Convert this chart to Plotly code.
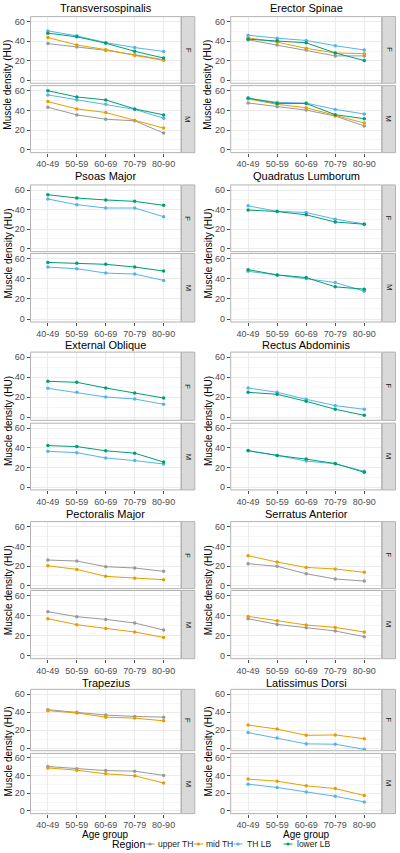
import plotly.graph_objects as go

# ---------------- data ----------------
age_groups = ["40-49", "50-59", "60-69", "70-79", "80-90"]
regions = ["upper TH", "mid TH", "TH LB", "lower LB"]
region_colors = ["#999999", "#E69F00", "#56B4E9", "#009E73"]
sexes = ["F", "M"]

muscles = ["Transversospinalis", "Erector Spinae", "Psoas Major", "Quadratus Lumborum",
           "External Oblique", "Rectus Abdominis", "Pectoralis Major", "Serratus Anterior",
           "Trapezius", "Latissimus Dorsi"]

transversospinalis_F = {"upper TH": [37.6, 34.1, 30.7, 26.2, 21.0],
                        "mid TH": [43.8, 36.2, 31.4, 25.5, 20.5],
                        "TH LB": [50.6, 45.5, 38.6, 33.5, 29.6],
                        "lower LB": [48.3, 44.5, 38.0, 29.7, 22.8]}
transversospinalis_M = {"upper TH": [43.2, 35.4, 31.0, 29.4, 16.9],
                        "mid TH": [48.9, 41.5, 37.8, 29.7, 22.0],
                        "TH LB": [55.7, 50.6, 46.2, 41.0, 32.1],
                        "lower LB": [60.0, 53.6, 50.6, 41.5, 35.4]}
erector_F = {"upper TH": [41.5, 36.1, 31.0, 25.0, 25.0],
             "mid TH": [43.5, 39.1, 32.7, 28.0, 27.3],
             "TH LB": [46.2, 43.1, 40.8, 35.4, 31.0],
             "lower LB": [42.1, 40.4, 38.4, 28.0, 20.2]}
erector_M = {"upper TH": [47.5, 43.7, 40.3, 34.2, 24.1],
             "mid TH": [51.7, 46.1, 42.7, 34.9, 27.1],
             "TH LB": [52.3, 48.1, 47.4, 41.0, 36.3],
             "lower LB": [52.5, 47.1, 47.0, 35.6, 31.5]}
psoas_F = {"TH LB": [50.8, 45.0, 41.6, 41.6, 32.7],
           "lower LB": [55.2, 51.8, 49.8, 48.4, 44.3]}
psoas_M = {"TH LB": [51.7, 50.0, 45.7, 44.7, 38.4],
           "lower LB": [56.3, 55.4, 54.4, 51.7, 47.7]}
quadratus_F = {"TH LB": [43.8, 38.2, 37.0, 30.2, 25.3],
               "lower LB": [39.5, 38.0, 34.6, 27.3, 25.0]}
quadratus_M = {"TH LB": [47.5, 43.9, 40.2, 36.3, 27.7],
               "lower LB": [49.1, 43.9, 41.2, 32.0, 29.7]}
ext_oblique_F = {"TH LB": [29.0, 25.0, 20.3, 18.3, 13.0],
                 "lower LB": [36.0, 35.0, 29.3, 24.3, 19.3]}
ext_oblique_M = {"TH LB": [36.5, 35.1, 29.7, 27.0, 23.5],
                 "lower LB": [42.3, 41.3, 37.0, 34.6, 25.5]}
rectus_F = {"TH LB": [29.3, 25.0, 18.0, 11.7, 8.0],
            "lower LB": [25.0, 23.0, 16.0, 8.0, 2.0]}
rectus_M = {"TH LB": [37.0, 32.3, 26.5, 23.7, 16.0],
            "lower LB": [37.2, 32.3, 28.5, 24.0, 15.0]}
pectoralis_F = {"upper TH": [26.1, 25.1, 19.3, 18.0, 14.6],
                "mid TH": [20.3, 16.6, 9.5, 7.5, 6.1]}
pectoralis_M = {"upper TH": [44.0, 39.0, 36.3, 32.7, 25.7],
                "mid TH": [37.0, 31.0, 27.3, 23.7, 18.3]}
serratus_F = {"upper TH": [22.4, 19.7, 12.2, 6.8, 4.7],
              "mid TH": [30.5, 24.0, 18.6, 17.0, 13.6]}
serratus_M = {"upper TH": [37.0, 31.3, 28.0, 24.7, 19.0],
              "mid TH": [39.3, 35.0, 30.7, 28.3, 23.7]}
trapezius_F = {"upper TH": [42.6, 39.6, 36.6, 35.1, 34.3],
               "mid TH": [41.5, 38.9, 34.3, 33.2, 30.2]}
trapezius_M = {"upper TH": [50.3, 47.7, 45.8, 45.1, 40.3],
               "mid TH": [48.8, 46.2, 42.1, 39.9, 31.7]}
latissimus_F = {"mid TH": [25.5, 21.0, 14.1, 14.5, 10.3],
                "TH LB": [17.1, 11.0, 4.6, 4.2, -1.5]}
latissimus_M = {"mid TH": [36.1, 33.8, 28.5, 25.4, 17.5],
                "TH LB": [30.4, 26.6, 21.6, 16.7, 10.3]}

muscle_data = [(transversospinalis_F, transversospinalis_M), (erector_F, erector_M),
               (psoas_F, psoas_M), (quadratus_F, quadratus_M),
               (ext_oblique_F, ext_oblique_M), (rectus_F, rectus_M),
               (pectoralis_F, pectoralis_M), (serratus_F, serratus_M),
               (trapezius_F, trapezius_M), (latissimus_F, latissimus_M)]

y_ticks = [0, 20, 40, 60]

# ---------------- layout geometry (pixels) ----------------
W, H = 400, 853
FONT = "Liberation Sans, Arial, sans-serif"
YLO, YHI = -3, 65.2
# per row: (F y=60, F y=0, M y=60, M y=0) pixel positions
rows_px = [(21.7, 80.3, 90.7, 149.7),
           (190.0, 248.7, 258.7, 319.0),
           (357.3, 417.3, 428.3, 487.0),
           (526.7, 585.7, 595.7, 655.7),
           (694.0, 748.0, 758.0, 811.0)]
title_px = [8, 176, 345, 514, 683]
cols_px = [(30.5, 181.0), (230.7, 381.7)]
strip_w = 13.3
ytitle_x = [8, 208]
# legend guide layout (pixels): key centres and label starts
legend_y = 844
legend_title_x = 128
legend_key_x = [150.0, 198.5, 238.0, 288.0]
legend_text_x = [155.5, 204.0, 244.5, 294.5]


def py(p):
    return 1 - p / H


def px(p):
    return p / W


fig = go.Figure()
layout = {}
shapes = []
annotations = []

ax = 0
for m_idx, muscle in enumerate(muscles):
    r, c = divmod(m_idx, 2)
    x0, x1 = cols_px[c]
    f60, f0, m60, m0 = rows_px[r]
    panel_bounds = []
    for s_idx, sex in enumerate(sexes):
        ax += 1
        y60, y0 = (f60, f0) if sex == "F" else (m60, m0)
        ppu = (y0 - y60) / 60.0
        top = y60 - (YHI - 60) * ppu
        bot = y0 + (0 - YLO) * ppu
        panel_bounds.append((top, bot))
        xa = "x" if ax == 1 else f"x{ax}"
        ya = "y" if ax == 1 else f"y{ax}"
        is_bottom = sex == "M"
        layout["xaxis" if ax == 1 else f"xaxis{ax}"] = dict(
            domain=[px(x0), px(x1)], anchor=ya, type="category",
            categoryorder="array", categoryarray=age_groups, range=[-0.6, 4.6],
            showgrid=True, gridcolor="#EBEBEB", gridwidth=1, zeroline=False,
            showline=False, ticks="outside" if is_bottom else "", ticklen=3,
            tickcolor="#4D4D4D", tickwidth=0.8,
            showticklabels=is_bottom, automargin=False,
            tickfont=dict(family=FONT, size=9, color="#4D4D4D"),
            fixedrange=True)
        layout["yaxis" if ax == 1 else f"yaxis{ax}"] = dict(
            domain=[py(bot), py(top)], anchor=xa, range=[YLO, YHI],
            tickvals=y_ticks, showgrid=True, gridcolor="#EBEBEB", gridwidth=1,
            minor=dict(tickvals=[10, 30, 50], showgrid=True, gridcolor="#F5F5F5",
                       gridwidth=0.8, ticklen=0),
            zeroline=False, showline=False, ticks="outside", ticklen=3,
            tickcolor="#4D4D4D", tickwidth=0.8, automargin=False,
            tickfont=dict(family=FONT, size=9, color="#4D4D4D"),
            fixedrange=True)
        # panel border
        shapes.append(dict(type="rect", xref=f"{xa} domain", yref=f"{ya} domain",
                           x0=0, x1=1, y0=0, y1=1, line=dict(color="#B3B3B3", width=1),
                           fillcolor="rgba(0,0,0,0)", layer="above"))
        # strip
        shapes.append(dict(type="rect", xref="paper", yref="paper",
                           x0=px(x1 + 0.5), x1=px(x1 + 0.5 + strip_w),
                           y0=py(bot), y1=py(top),
                           line=dict(color="#B3B3B3", width=1), fillcolor="#D9D9D9"))
        annotations.append(dict(text=sex, xref="paper", yref="paper",
                                x=px(x1 + 0.5 + strip_w / 2), y=py((top + bot) / 2),
                                showarrow=False, textangle=90,
                                font=dict(family=FONT, size=8, color="#1A1A1A"),
                                xanchor="center", yanchor="middle"))
        data = muscle_data[m_idx][s_idx]
        for reg, col in zip(regions, region_colors):
            if reg not in data:
                continue
            fig.add_trace(go.Scatter(
                x=age_groups, y=data[reg], xaxis=xa, yaxis=ya,
                mode="lines+markers", name=reg, showlegend=False,
                line=dict(color=col, width=1),
                marker=dict(color=col, size=3.5), cliponaxis=False))
    # muscle title
    annotations.append(dict(text=muscle, xref="paper", yref="paper",
                            x=px((x0 + x1) / 2), y=py(title_px[r]), showarrow=False,
                            font=dict(family=FONT, size=11, color="#000000"),
                            xanchor="center", yanchor="middle"))
    # y-axis title
    ytop = panel_bounds[0][0]
    ybot = panel_bounds[1][1]
    annotations.append(dict(text="Muscle density (HU)", xref="paper", yref="paper",
                            x=px(ytitle_x[c]), y=py((ytop + ybot) / 2), showarrow=False,
                            textangle=-90, font=dict(family=FONT, size=10, color="#000000"),
                            xanchor="center", yanchor="middle"))
    if r == 4:
        annotations.append(dict(text="Age group", xref="paper", yref="paper",
                                x=px((x0 + x1) / 2), y=py(834), showarrow=False,
                                font=dict(family=FONT, size=10, color="#000000"),
                                xanchor="center", yanchor="middle"))

# ---------------- legend guide ----------------
annotations.append(dict(text="Region", xref="paper", yref="paper",
                        x=px(legend_title_x), y=py(legend_y), showarrow=False,
                        font=dict(family=FONT, size=10.5, color="#000000"),
                        xanchor="center", yanchor="middle"))
for kx, tx, lab, col in zip(legend_key_x, legend_text_x, regions, region_colors):
    shapes.append(dict(type="line", xref="paper", yref="paper",
                       x0=px(kx - 4.5), x1=px(kx + 4.5), y0=py(legend_y), y1=py(legend_y),
                       line=dict(color=col, width=1)))
    shapes.append(dict(type="circle", xref="paper", yref="paper",
                       x0=px(kx - 1.6), x1=px(kx + 1.6), y0=py(legend_y + 1.6),
                       y1=py(legend_y - 1.6), line=dict(color=col, width=0),
                       fillcolor=col))
    annotations.append(dict(text=lab, xref="paper", yref="paper",
                            x=px(tx), y=py(legend_y), showarrow=False,
                            font=dict(family=FONT, size=8.5, color="#1A1A1A"),
                            xanchor="left", yanchor="middle"))

fig.update_layout(
    width=W, height=H, margin=dict(l=0, r=0, t=0, b=0, autoexpand=False),
    paper_bgcolor="white", plot_bgcolor="white",
    font=dict(family=FONT),
    shapes=shapes, annotations=annotations,
    showlegend=False,
    **layout)

fig.write_html("out.html", config={"displayModeBar": False},
               post_script="document.body.style.margin='0px';"
                           "document.body.style.overflow='hidden';")
